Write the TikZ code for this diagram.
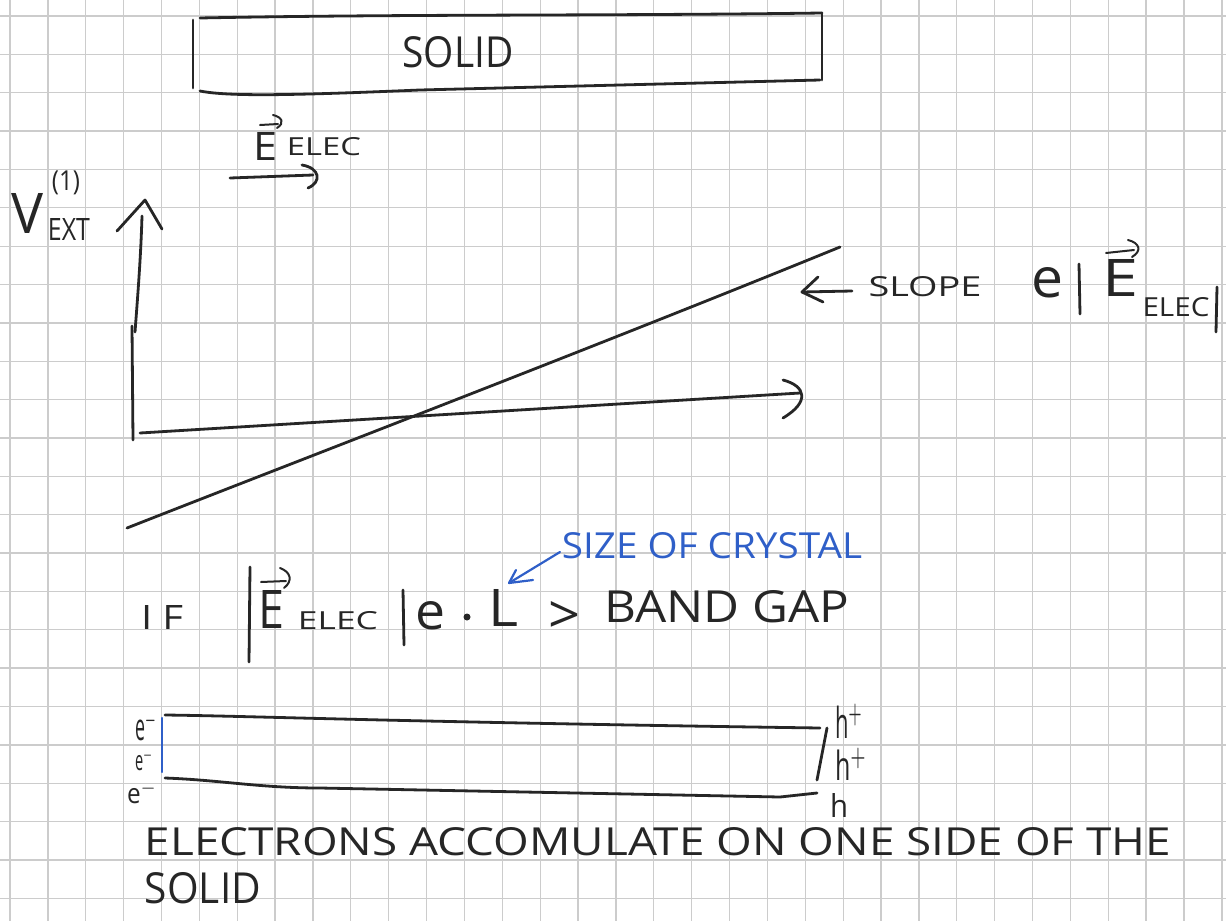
\documentclass[tikz,border=0pt]{standalone}
\usepackage{fontspec}
\setmainfont{Open Sans}
\usepackage{graphicx}
\usetikzlibrary{arrows.meta}
\definecolor{ink}{HTML}{262626}
\definecolor{bluink}{HTML}{2F5FC8}
\definecolor{gridc}{HTML}{CCCCCC}
\newcommand{\hw}[3]{\resizebox{#1pt}{#2pt}{#3}}
\newcommand{\hwt}[3]{\resizebox*{#1pt}{#2pt}{#3}}
\begin{document}
\begin{tikzpicture}[x=1pt,y=-1pt,
  pen/.style={draw=ink, line width=2.8pt, line cap=round, line join=round},
  thinpen/.style={draw=ink, line width=2pt, line cap=round, line join=round},
  bluepen/.style={draw=bluink, line width=2.2pt, line cap=round, line join=round},
  lbl/.style={inner sep=0pt, outer sep=0pt, text=ink},
  bluelbl/.style={inner sep=0pt, outer sep=0pt, text=bluink},
  gridline/.style={draw=gridc, line width=1.3pt}]
\useasboundingbox (0,0) rectangle (1226,921);
\fill[white] (0,0) rectangle (1226,921);
% grid paper
\foreach \k in {0,...,32} \draw[gridline] ({10+37.87*\k},0) -- ({10+37.87*\k},921);
\foreach \k in {0,...,23} \draw[gridline] (0,{16+38.36*\k}) -- (1226,{16+38.36*\k});

% ---- top solid box ----
\coordinate (sTL) at (193,20);
\coordinate (sBL) at (193,88);
\coordinate (sT1) at (200,18);
\coordinate (sTR) at (822,13);
\coordinate (sBR) at (822,80);
\coordinate (sB1) at (200,91);
\draw[pen] (sTL) -- (sBL);
\draw[pen] (sT1) .. controls (400,14) and (600,16) .. (sTR);
\draw[pen] (sTR) -- (sBR);
\draw[pen] (sB1) .. controls (230,97) and (300,95) .. (420,90) -- (820,80);
\node[lbl] (solid) at (458,52) {\hw{111}{31}{SOLID}};

% ---- E_elec arrow label ----
\node[lbl] (E1) at (265,146) {\hw{24}{28}{E}};
\node[lbl] (E1s) at (324,147) {\hw{74}{18}{ELEC}};
\coordinate (v1a) at (260,125); \coordinate (v1b) at (278,124);
\draw[thinpen] (v1a) -- (v1b);
\draw[thinpen] (273,115) .. controls (282,117) and (285,123) .. (277,128);
\coordinate (ea) at (230,178); \coordinate (eb) at (313,175);
\draw[pen] (ea) -- (eb);
\draw[pen] (302,165) .. controls (320,168) and (322,182) .. (308,188);

% ---- axis label ----
\node[lbl] (V) at (28,213) {\hw{32}{40}{V}};
\node[lbl] (one) at (66,183) {\hwt{28}{24}{(1)}};
\node[lbl] (ext) at (69,229) {\hw{42}{22}{EXT}};

% ---- axes ----
\coordinate (o1) at (133,440);
\coordinate (ymid) at (132,326);
\coordinate (ytop) at (145,200);
\draw[pen] (o1) -- (ymid);
\draw[pen] (135,332) .. controls (139,280) and (141,250) .. (142,216);
\draw[pen] (117,231) -- (ytop) -- (162,229);
\coordinate (o2) at (140,433);
\coordinate (xend) at (800,393);
\draw[pen] (o2) -- (xend);
\draw[pen] (783,380) .. controls (806,386) and (810,402) .. (783,418);

% ---- slope line ----
\coordinate (l1) at (127,528);
\coordinate (l2) at (840,247);
\draw[pen] (l1) .. controls (300,460) and (600,345) .. (l2);

% ---- slope label ----
\coordinate (sa) at (852,291); \coordinate (sb) at (802,292);
\draw[pen] (sa) -- (sb);
\draw[pen] (818,277) -- (sb) -- (823,302);
\node[lbl] (slope) at (925,287) {\hw{113}{20}{SLOPE}};
\node[lbl] (e1) at (1047,283) {\hw{32}{30}{e}};
\draw[pen] (1079,264) -- (1080,314);
\node[lbl] (E2) at (1120,278) {\hw{36}{37}{E}};
\draw[thinpen] (1106,253) -- (1134,250);
\draw[thinpen] (1128,240) .. controls (1140,243) and (1142,251) .. (1132,257);
\node[lbl] (E2s) at (1176,307) {\hw{67}{19}{ELEC}};
\draw[pen] (1217,287) -- (1216,332);

% ---- IF line ----
\node[lbl] (if) at (162,617) {\hw{42}{24}{I\hspace{0.25em}F}};
\draw[pen] (250,567) -- (249,662);
\node[lbl] (E3) at (271,609) {\hw{26}{38}{E}};
\draw[thinpen] (261,582) -- (286,581);
\draw[thinpen] (280,568) .. controls (291,572) and (293,581) .. (284,588);
\node[lbl] (E3s) at (338,621) {\hw{80}{18}{ELEC}};
\draw[pen] (403,590) -- (404,645);
\node[lbl] (e2) at (430,616) {\hw{30}{28}{e}};
\fill[ink] (467,617) circle (3.5);
\node[lbl] (L) at (503,608) {\hw{30}{37}{L}};
\node[lbl] (gt) at (565,617) {\hw{32}{32}{>}};
\node[lbl] (gap) at (727,607) {\hw{245}{32}{BAND GAP}};
\node[bluelbl] (size) at (712,546) {\hw{300}{26}{SIZE OF CRYSTAL}};
\coordinate (ba) at (560,552); \coordinate (bb) at (509,583);
\draw[bluepen] (ba) -- (bb);
\draw[bluepen] (516,570) -- (bb) -- (533,580);

% ---- bottom box ----
\coordinate (bTL) at (165,715);
\coordinate (bTR) at (820,728);
\coordinate (bRB) at (817,780);
\coordinate (bBL) at (165,778);
\coordinate (bBR) at (817,793);
\draw[pen] (bTL) .. controls (250,716) and (400,722) .. (bTR);
\draw[pen] (827,728) -- (bRB);
\draw[pen] (bBL) .. controls (220,780) and (260,788) .. (320,788) -- (780,797) -- (bBR);
\draw[bluepen] (162,718) -- (162,772);
\node[lbl] (em1) at (146,726) {\hw{22}{30}{e$^{-}$}};
\node[lbl] (em2) at (144,760) {\hw{18}{22}{e$^{-}$}};
\node[lbl] (em3) at (142,793) {\hw{30}{22}{e$^{-}$}};
\node[lbl] (hp1) at (849,721) {\hw{28}{34}{h$^{+}$}};
\node[lbl] (hp2) at (851,764) {\hw{32}{32}{h$^{+}$}};
\node[lbl] (hp3) at (839,805) {\hw{18}{24}{h}};

% ---- bottom text ----
\node[lbl] (txt1) at (658,842) {\hw{1026}{28}{ELECTRONS ACCOMULATE ON ONE SIDE OF THE}};
\node[lbl] (txt2) at (203,888) {\hw{116}{31}{SOLID}};
\end{tikzpicture}
\end{document}
